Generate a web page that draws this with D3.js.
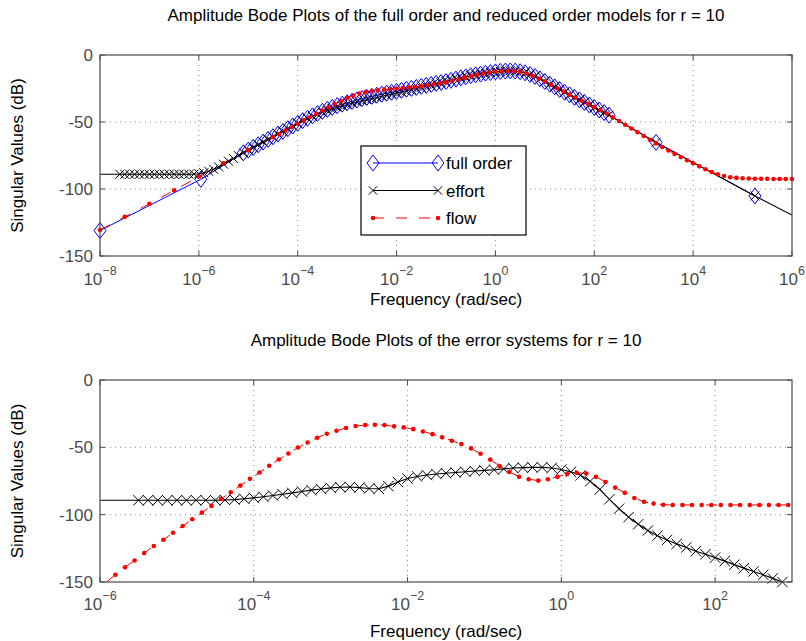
<!DOCTYPE html>
<html><head><meta charset="utf-8">
<script src="https://cdn.jsdelivr.net/npm/d3@7"></script>
<style>
body{margin:0;background:#fff}
text{font-family:"Liberation Sans",Arial,Helvetica,sans-serif}
</style>
</head><body>
<svg id="c" width="806" height="641"></svg>
<script>
// ---------------- DATA (log10 of frequency in rad/sec, values in dB) ----------------
const topTickExp = [-8,-6,-4,-2,0,2,4,6];
const botTickExp = [-6,-4,-2,0,2];
const yTicks = [-150,-100,-50,0];

// shared dense frequency grid of the top plot
const topDenseW = [-5.1,-5,-4.9,-4.8,-4.7,-4.6,-4.5,-4.4,-4.3,-4.2,-4.1,-4,-3.9,-3.8,-3.7,-3.6,-3.5,-3.4,-3.3,-3.2,-3.1,-3,-2.9,-2.8,-2.7,-2.6,-2.5,-2.4,-2.3,-2.2,-2.1,-2,-1.9,-1.8,-1.7,-1.6,-1.5,-1.4,-1.3,-1.2,-1.1,-1,-0.9,-0.8,-0.7,-0.6,-0.5,-0.4,-0.3,-0.2,-0.1,0,0.1,0.2,0.3,0.4,0.5,0.6,0.7,0.8,0.9,1,1.1,1.2,1.3,1.4,1.5,1.6,1.7,1.8,1.9,2,2.1,2.2,2.3];

// full order (top, blue diamonds)
const fullW = [-8,-5.96, ...topDenseW, 3.25, 5.25];
const fullDb = [-131,-92.8,
 -73,-71,-69,-67,-65,-63,-61,-59,-57,-55,-53,-51,
 -49,-47.2,-45.4,-43.6,-42,-40.5,-39.1,-37.8,-36.7,-35.6,
 -34.5,-33.5,-32.5,-31.6,-30.8,-30,-29.2,-28.5,-27.8,-27.1,
 -26.3,-25.6,-24.9,-24.2,-23.4,-22.7,-22,-21.2,-20.5,-19.8,
 -18.9,-18,-17.1,-16.3,-15.5,-14.8,-14.2,-13.6,-13.1,-12.6,
 -12.2,-12,-11.9,-12,-12.5,-13.3,-14.5,-16,-17.8,-19.8,
 -21.8,-23.8,-25.8,-27.8,-29.7,-31.6,-33.5,-35.4,-37.3,-39.2,
 -41.1,-43,-44.9,
 -65.2,-105.2];

// effort (top, black x)
const effortW = [-8,-7.6,-7.5,-7.4,-7.3,-7.2,-7.1,-7,-6.9,-6.8,-6.7,-6.6,-6.5,-6.4,-6.3,-6.2,-6.1,-6,-5.9,-5.8,-5.7,-5.6,-5.5,-5.4,-5.3,-5.2, ...topDenseW, 3.25, 5.25, 6];
const effortDb = [-89,-89,-89,-89,-89,-89,-89,-89,-89,-89,-89,-89,-89,-89,-89,-89,
 -88.9,-88.6,-87.9,-86.8,-85.3,-83.5,-81.5,-79.3,-77.2,-75.1,
 -73,-71,-69,-67,-65,-63,-61,-59,-57,-55,-53,-51,
 -49.2,-47.5,-45.9,-44.3,-42.8,-41.5,-40.2,-39,-38,-37,
 -36,-35,-34.1,-33.3,-32.5,-31.7,-30.8,-30,-29.2,-28.4,
 -27.5,-26.7,-25.8,-25,-24.1,-23.3,-22.4,-21.6,-20.7,-19.8,
 -18.9,-18,-17.1,-16.3,-15.5,-14.8,-14.2,-13.6,-13.1,-12.6,
 -12.2,-12,-11.9,-12,-12.5,-13.3,-14.5,-16,-17.8,-19.8,
 -21.8,-23.8,-25.8,-27.8,-29.7,-31.6,-33.5,-35.4,-37.3,-39.2,
 -41.1,-43,-44.9,
 -65.2,-105.2,-119.4];

// flow (top, red dashed with dots)
const flowW = [-8,-7.5,-7,-6.5,-6,-5.5,-5,
 -4.5,-4.375,-4.25,-4.125,-4,-3.875,-3.75,-3.625,-3.5,-3.375,-3.25,-3.125,
 -3,-2.875,-2.75,-2.625,-2.5,-2.375,-2.25,-2.125,-2,-1.875,-1.75,-1.625,-1.5,-1.375,-1.25,-1.125,
 -1,-0.875,-0.75,-0.625,-0.5,-0.375,-0.25,-0.125,0,0.125,0.25,0.375,0.5,0.625,0.75,0.875,
 1,1.125,1.25,1.375,1.5,1.625,1.75,1.875,2,2.125,2.25,2.375,2.5,2.625,2.75,2.875,
 3,3.125,3.25,3.375,3.5,3.625,3.75,3.875,4,4.125,4.25,4.375,4.5,4.625,4.75,4.875,
 5,5.125,5.25,5.375,5.5,5.625,5.75,5.875,6];
const flowDb = [-130.6,-120.8,-111,-101,-90.8,-80.8,-71,
 -61.3,-59,-56.4,-53.8,-51.3,-48.8,-46.3,-43.8,-41.4,-39,-36.6,-34.3,
 -32.2,-30.3,-28.8,-27.7,-26.9,-26.3,-25.8,-25.4,-25,-24.6,-24.2,-23.7,-23.2,-22.6,-21.9,-21.1,
 -20.3,-19.2,-18.1,-16.9,-15.8,-14.7,-13.8,-13,-12.4,-11.9,-11.7,-11.9,-12.5,-13.8,-15.6,-17.6,
 -19.8,-22.3,-24.8,-27.2,-29.6,-31.9,-34.2,-36.5,-38.8,-41.2,-43.7,-46.4,-49.2,-52,-54.8,-57.6,
 -60.4,-63.2,-66,-68.7,-71.3,-73.8,-76.2,-78.5,-80.8,-83.1,-85.3,-87.3,-89,-90.3,-91.2,-91.7,
 -92,-92.2,-92.3,-92.4,-92.4,-92.5,-92.5,-92.5,-92.5];

// error systems (bottom)
const errEffortW = [-6,-5.5,-5.375,-5.25,-5.125,-5,-4.875,-4.75,-4.625,-4.5,-4.375,-4.25,-4.125,
 -4,-3.875,-3.75,-3.625,-3.5,-3.375,-3.25,-3.125,-3,-2.875,-2.75,-2.625,-2.5,-2.375,-2.25,-2.125,
 -2,-1.875,-1.75,-1.625,-1.5,-1.375,-1.25,-1.125,-1,-0.875,-0.75,-0.625,-0.5,-0.375,-0.25,-0.125,
 0,0.125,0.25,0.375,0.5,0.625,0.75,0.875,1,1.125,1.25,1.375,1.5,1.625,1.75,1.875,
 2,2.125,2.25,2.375,2.5,2.625,2.75,2.875];
const errEffortDb = [-89.3,-89.3,-89.3,-89.3,-89.3,-89.3,-89.3,-89.3,-89.3,-89.3,-89.1,-88.8,-88.2,
 -87.5,-86.7,-85.8,-84.8,-83.8,-82.8,-81.8,-80.9,-80.1,-79.6,-79.5,-79.9,-80.6,-80.8,-78.8,-75.8,
 -73.2,-71.6,-70.6,-69.8,-69.2,-68.7,-68.1,-67.6,-67.1,-66.6,-66,-65.4,-65.1,-64.9,-64.9,-65.3,
 -66.5,-68.2,-70.8,-75.2,-81.3,-88.6,-95.6,-101.8,-107.1,-111.8,-115.6,-118.8,-121.7,-124.3,-127.1,-129.4,
 -131.9,-134.5,-137.1,-139.7,-142.2,-144.6,-147.3,-150];

const errFlowW = [-5.925,-5.8,-5.675,-5.55,-5.425,-5.3,-5.175,-5.05,-4.925,-4.8,-4.675,-4.55,-4.425,
 -4.3,-4.175,-4.05,-3.925,-3.8,-3.675,-3.55,-3.425,-3.3,-3.175,-3.05,-2.925,-2.8,-2.675,-2.55,-2.425,
 -2.3,-2.175,-2.05,-1.925,-1.8,-1.675,-1.55,-1.425,-1.3,-1.175,-1.05,-0.925,-0.8,-0.675,-0.55,-0.425,
 -0.3,-0.175,-0.05,0.075,0.2,0.325,0.45,0.575,0.7,0.825,0.95,1.075,1.2,1.325,1.45,
 1.575,1.7,1.825,1.95,2.075,2.2,2.325,2.45,2.575,2.7,2.825,2.95];
const errFlowDb = [-150.5,-144.6,-139,-134,-128.5,-123.3,-118.6,-113.4,-108.4,-103.4,-98.5,-93.5,-88.3,
 -83.3,-78.4,-73.4,-68.7,-63.7,-59,-54.6,-50.1,-46.4,-42.9,-39.9,-37.7,-35.6,-34.2,-33.5,-33.2,
 -33.5,-34.4,-35.2,-36.5,-38.2,-40.2,-42.6,-45.1,-47.6,-50.8,-54.8,-59.1,-64,-68.2,-71.9,-73.7,
 -74.7,-73.7,-71.9,-69.8,-68.9,-69.5,-71.9,-75.7,-79.9,-83.8,-87.6,-90.5,-91.8,-92.6,-92.8,
 -92.8,-92.8,-92.8,-92.8,-92.8,-92.8,-92.8,-92.8,-92.8,-92.8,-92.8,-92.8];

const legendLabels = ["full order","effort","flow"];

// ---------------- DRAWING ----------------
const svg = d3.select("#c");
const FONT = 17;
const AXC = "#4a4a4a";
const diamondPath = "M0,-8L6,0L0,8L-6,0Z";
const crossPath = h => `M${-h},${-h}L${h},${h}M${-h},${h}L${h},${-h}`;

function zip(w, v){ return w.map((e,i)=>({e:e, w:Math.pow(10,e), v:v[i]})); }

function panel(cfg){
  const {L,T,R,B,id} = cfg;
  const x = d3.scaleLog().domain(cfg.xDomain).range([L,R]);
  const y = d3.scaleLinear().domain([-150,0]).range([B,T]);
  const g = svg.append("g");
  g.append("rect").attr("x",L).attr("y",T).attr("width",R-L).attr("height",B-T).attr("fill","#fff");
  svg.append("clipPath").attr("id",id).append("rect").attr("x",L).attr("y",T).attr("width",R-L).attr("height",B-T);

  const xt = cfg.tickExp.map(e=>Math.pow(10,e));
  // grid
  g.selectAll(".gx").data(xt.filter(t=>x(t)>L+1 && x(t)<R-1)).join("line")
    .attr("x1",d=>x(d)).attr("x2",d=>x(d)).attr("y1",T).attr("y2",B)
    .attr("stroke","#8c8c8c").attr("stroke-width",1).attr("stroke-dasharray","1,4");
  g.selectAll(".gy").data(yTicks.filter(t=>y(t)>T+1 && y(t)<B-1)).join("line")
    .attr("y1",d=>y(d)).attr("y2",d=>y(d)).attr("x1",L).attr("x2",R)
    .attr("stroke","#8c8c8c").attr("stroke-width",1).attr("stroke-dasharray","1,4");

  // series
  const line = d3.line().x(d=>x(d.w)).y(d=>y(d.v));
  const cl = g.append("g").attr("clip-path",`url(#${id})`);
  const mk = g.append("g");
  cfg.series.forEach(s=>{
    const data = zip(s.w, s.v);
    const p = cl.append("path").datum(data).attr("d",line).attr("fill","none")
      .attr("stroke",s.color).attr("stroke-width",s.lw||1);
    if(s.dash) p.attr("stroke-dasharray",s.dash);
    const md = data.filter((d,i)=>d.v>=-150.2 && (!s.markFilter || s.markFilter(d,i)));
    if(s.marker==="dot"){
      mk.selectAll(null).data(md).join("circle").attr("cx",d=>x(d.w)).attr("cy",d=>y(d.v))
        .attr("r",2.3).attr("fill",s.color);
    } else {
      mk.selectAll(null).data(md).join("path")
        .attr("transform",d=>`translate(${x(d.w)},${y(d.v)})`)
        .attr("d",s.marker==="diamond"?diamondPath:crossPath(s.xs||4.5))
        .attr("fill","none").attr("stroke",s.color).attr("stroke-width",1);
    }
  });

  // box
  g.append("rect").attr("x",L).attr("y",T).attr("width",R-L).attr("height",B-T)
    .attr("fill","none").attr("stroke",AXC).attr("stroke-width",1.2);
  // ticks (inward, all four sides)
  const tl = 5;
  xt.forEach(t=>{
    g.append("line").attr("x1",x(t)).attr("x2",x(t)).attr("y1",B).attr("y2",B-tl).attr("stroke",AXC);
    g.append("line").attr("x1",x(t)).attr("x2",x(t)).attr("y1",T).attr("y2",T+tl).attr("stroke",AXC);
  });
  yTicks.forEach(t=>{
    g.append("line").attr("y1",y(t)).attr("y2",y(t)).attr("x1",L).attr("x2",L+tl).attr("stroke",AXC);
    g.append("line").attr("y1",y(t)).attr("y2",y(t)).attr("x1",R).attr("x2",R-tl).attr("stroke",AXC);
  });
  // tick labels
  cfg.tickExp.forEach(e=>{
    const t = g.append("text").attr("x",x(Math.pow(10,e))).attr("y",cfg.tickY)
      .attr("text-anchor","middle").attr("fill",AXC).attr("font-size",FONT);
    t.append("tspan").text("10");
    t.append("tspan").attr("dy",-10).attr("font-size",12.5).text(e<0?"\u2212"+Math.abs(e):String(e));
  });
  yTicks.forEach(v=>{
    g.append("text").attr("x",L-7).attr("y",y(v)).attr("dy","0.35em").attr("text-anchor","end")
      .attr("fill",AXC).attr("font-size",FONT).text(v<0?"-"+Math.abs(v):String(v));
  });
  // labels
  g.append("text").attr("x",(L+R)/2).attr("y",cfg.titleY).attr("text-anchor","middle")
    .attr("font-size",FONT).attr("fill","#000").text(cfg.title);
  g.append("text").attr("x",(L+R)/2).attr("y",cfg.xlabY).attr("text-anchor","middle")
    .attr("font-size",FONT).attr("fill","#000").text("Frequency (rad/sec)");
  g.append("text").attr("transform",`translate(23,${(T+B)/2}) rotate(-90)`).attr("text-anchor","middle")
    .attr("font-size",FONT).attr("fill","#000").text("Singular Values (dB)");
  return {x,y,g};
}

const topPanel = panel({id:"c1",L:100,T:55,R:792,B:256,xDomain:[1e-8,1e6],tickExp:topTickExp,
  tickY:285,titleY:21,xlabY:305,
  title:"Amplitude Bode Plots of the full order and reduced order models for r = 10",
  series:[
    {w:fullW,v:fullDb,color:"#0000ff",marker:"diamond",lw:1},
    {w:effortW,v:effortDb,color:"#000",marker:"cross",xs:4.5,lw:1.1,markFilter:(d,i)=>i>0 && d.e<5.9},
    {w:flowW,v:flowDb,color:"#ff0000",marker:"dot",lw:1,dash:"11,12"}
  ]});

const botPanel = panel({id:"c2",L:100,T:380,R:792,B:582,xDomain:[1e-6,1e3],tickExp:botTickExp,
  tickY:610,titleY:346,xlabY:637,
  title:"Amplitude Bode Plots of the error systems for r = 10",
  series:[
    {w:errEffortW,v:errEffortDb,color:"#000",marker:"cross",xs:5.2,lw:1.1,markFilter:(d,i)=>i>0},
    {w:errFlowW,v:errFlowDb,color:"#ff0000",marker:"dot",lw:1,dash:"11,12"}
  ]});

// legend
const lg = svg.append("g");
lg.append("rect").attr("x",361).attr("y",146).attr("width",165).attr("height",89)
  .attr("fill","#fff").attr("stroke","#000").attr("stroke-width",1.2);
const legStyles = [
  {color:"#0000ff",marker:"diamond"},
  {color:"#000",marker:"cross"},
  {color:"#ff0000",marker:"dot",dash:"11,12"}
];
const legY = d3.scaleLinear().domain([0,2]).range([163,218]);
legendLabels.forEach((lab,i)=>{
  const yy = legY(i), x1 = 373, x2 = 438;
  const l = lg.append("line").attr("x1",x1).attr("x2",x2).attr("y1",yy).attr("y2",yy)
    .attr("stroke",legStyles[i].color).attr("stroke-width",1);
  if(legStyles[i].dash) l.attr("stroke-dasharray",legStyles[i].dash);
  [x1,x2].forEach(xx=>{
    if(legStyles[i].marker==="dot"){
      lg.append("circle").attr("cx",xx).attr("cy",yy).attr("r",2.3).attr("fill",legStyles[i].color);
    } else {
      lg.append("path").attr("transform",`translate(${xx},${yy})`)
        .attr("d",legStyles[i].marker==="diamond"?diamondPath:crossPath(4.2))
        .attr("fill","none").attr("stroke",legStyles[i].color);
    }
  });
  lg.append("text").attr("x",446).attr("y",yy).attr("dy","0.36em").attr("font-size",FONT)
    .attr("fill","#000").text(lab);
});
</script>
</body></html>
